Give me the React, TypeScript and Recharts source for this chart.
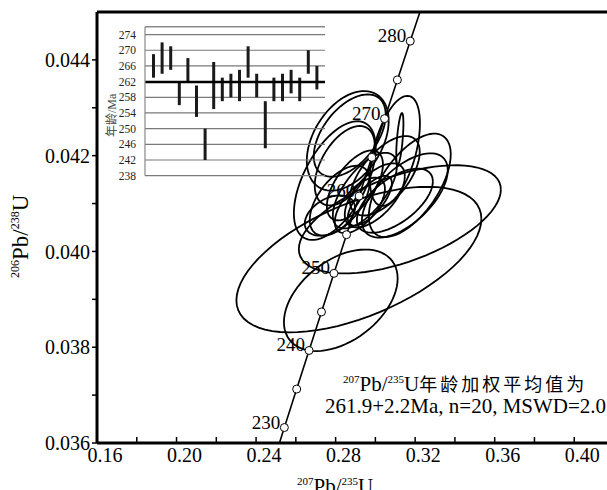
import React from "react";
import {
  ComposedChart,
  Scatter,
  Bar,
  XAxis,
  YAxis,
  CartesianGrid,
  ReferenceLine,
} from "recharts";

const SERIF = "'Liberation Serif', 'Times New Roman', serif";
const CJK = "'Noto Sans CJK SC', sans-serif";

// concordia reference points (age in Ma, 207Pb/235U, 206Pb/238U)
const concAge = [225, 230, 235, 240, 245, 250, 255, 260, 265, 270, 275, 280, 285];
const concX = [0.24806, 0.25422, 0.26041, 0.26664, 0.27289, 0.27917, 0.28549, 0.29183, 0.29821, 0.30462, 0.31106, 0.31753, 0.32403];
const concY = [0.035519, 0.036323, 0.037126, 0.037932, 0.038737, 0.039543, 0.04035, 0.041157, 0.041965, 0.042773, 0.043582, 0.044392, 0.045203];

// error ellipses: centre, half extents, correlation
const ellX = [0.2917, 0.2826, 0.3123, 0.2796, 0.2861, 0.3098, 0.3123, 0.3173, 0.3148, 0.2846, 0.2897, 0.2947, 0.2997, 0.2821, 0.2922, 0.3047, 0.2871, 0.2972, 0.2771, 0.3098];
const ellY = [0.03983, 0.03898, 0.04067, 0.04148, 0.04231, 0.0421, 0.04235, 0.04138, 0.04117, 0.04179, 0.04138, 0.04127, 0.04117, 0.04106, 0.04096, 0.04158, 0.04242, 0.04106, 0.04075, 0.04106];
const ellSX = [0.0616, 0.0286, 0.0508, 0.0206, 0.0206, 0.0126, 0.0018, 0.0206, 0.0216, 0.0151, 0.0141, 0.0161, 0.0151, 0.0151, 0.0126, 0.0176, 0.0181, 0.0111, 0.0126, 0.0191];
const ellSY = [0.00152, 0.00106, 0.00113, 0.00124, 0.00104, 0.00115, 0.00054, 0.00108, 0.00088, 0.00083, 0.00073, 0.00079, 0.00067, 0.00073, 0.00058, 0.00083, 0.00086, 0.00052, 0.00042, 0.00067];
const ellRho = [0.56, 0.43, 0.55, 0.55, 0.4, 0.5, 0.6, 0.6, 0.6, 0.5, 0.6, 0.65, 0.6, 0.55, 0.6, 0.6, 0.5, 0.7, 0.4, 0.6];

const xTicks = [0.16, 0.18, 0.2, 0.22, 0.24, 0.26, 0.28, 0.3, 0.32, 0.34, 0.36, 0.38, 0.4, 0.42];
const yTicks = [0.036, 0.037, 0.038, 0.039, 0.04, 0.041, 0.042, 0.043, 0.044];

// inset: 207Pb/235U ages per spot
const ageLow = [263, 264, 265, 256, 262, 253, 242, 255, 257, 258, 257, 263, 258, 245, 257, 257, 259, 257, 264, 260];
const ageHigh = [269, 272, 271, 262, 268, 261, 250, 267, 263, 264, 265, 271, 264, 257, 263, 264, 265, 263, 270, 266];
const meanAge = 261.9;
const ageTicks = [238, 242, 246, 250, 254, 258, 262, 266, 270, 274];

const concData = concAge.map((age, i) => ({ age, x: concX[i], y: concY[i] }));

const ellipses = ellX.map((cx, i) => {
  const pts = [];
  const r = Math.sqrt(1 - ellRho[i] * ellRho[i]);
  for (let k = 0; k <= 72; k++) {
    const t = (k * Math.PI) / 36;
    pts.push({
      x: cx + ellSX[i] * Math.cos(t),
      y: ellY[i] + ellSY[i] * (ellRho[i] * Math.cos(t) + r * Math.sin(t)),
    });
  }
  return pts;
});

const insetData = ageLow.map((lo, i) => ({ n: i + 1, range: [lo, ageHigh[i]] }));

const NoDot = () => <g />;

const ConcDot = (props: any) => {
  const { cx, cy, payload } = props;
  if (payload.age < 230 || payload.age > 280) return <g />;
  return (
    <g>
      <circle cx={cx} cy={cy} r={4} fill="#fff" stroke="#000" strokeWidth={1} />
      {payload.age % 10 === 0 && (
        <text x={cx - 4} y={cy + 1} textAnchor="end" fontSize={19} fontFamily={SERIF} fill="#000">
          {payload.age}
        </text>
      )}
    </g>
  );
};

const XTick = (props: any) => {
  const { x, y, payload } = props;
  const v = payload.value;
  const major = Math.round(v * 100) % 4 === 0;
  return (
    <g>
      <line x1={x} y1={y} x2={x} y2={y - 6} stroke="#000" strokeWidth={1.5} />
      {major && (
        <text x={x + 8} y={y + 19} textAnchor="middle" fontSize={20} fontFamily={SERIF} fill="#000">
          {v.toFixed(2)}
        </text>
      )}
    </g>
  );
};

export default function App() {
  return (
    <div style={{ position: "absolute", left: 0, top: 0, width: 607, height: 490, overflow: "hidden", background: "#fff" }}>
      <div style={{ position: "absolute", left: 0, top: 0 }}>
        <ComposedChart width={620} height={490} margin={{ top: 12, right: 6, bottom: 0, left: 37 }}>
          <XAxis
            type="number"
            dataKey="x"
            domain={[0.16, 0.42]}
            ticks={xTicks}
            allowDataOverflow
            height={47}
            axisLine={{ stroke: "#000", strokeWidth: 3 }}
            tickLine={false}
            tickSize={0}
            tickMargin={0}
            tick={<XTick />}
            interval={0}
          />
          <YAxis
            type="number"
            dataKey="y"
            domain={[0.036, 0.045]}
            ticks={yTicks}
            allowDataOverflow
            width={60}
            interval={0}
            axisLine={{ stroke: "#000", strokeWidth: 3 }}
            tickLine={{ stroke: "#000", strokeWidth: 1.5 }}
            tickSize={5}
            tickMargin={2}
            tick={{ fontSize: 20, fontFamily: SERIF, fill: "#000" }}
            tickFormatter={(v: number) => (Math.round(v * 1000) % 2 === 0 ? v.toFixed(3) : "")}
          />
          <ReferenceLine y={0.045} stroke="#000" strokeWidth={3} />
          {ellipses.map((pts, i) => (
            <Scatter
              key={i}
              data={pts}
              line={{ stroke: "#000", strokeWidth: 1.8 }}
              lineType="joint"
              shape={<NoDot />}
              fill="none"
              isAnimationActive={false}
            />
          ))}
          <Scatter
            data={concData}
            line={{ stroke: "#000", strokeWidth: 1.6 }}
            lineType="joint"
            shape={<ConcDot />}
            isAnimationActive={false}
          />
        </ComposedChart>
      </div>

      <div style={{ position: "absolute", left: 100, top: 10 }}>
        <ComposedChart width={240} height={180} data={insetData} margin={{ top: 16.7, right: 15, bottom: 14.3, left: 0 }}>
          <CartesianGrid vertical={false} stroke="#7a7a7a" strokeWidth={1.2} />
          <XAxis
            dataKey="n"
            type="category"
            height={0}
            tick={false}
            tickLine={false}
            padding={{ left: 4, right: 4 }}
            axisLine={{ stroke: "#888", strokeWidth: 1.2 }}
          />
          <YAxis
            domain={[238, 276]}
            ticks={ageTicks}
            interval={0}
            width={45}
            axisLine={{ stroke: "#888", strokeWidth: 1.2 }}
            tickLine={false}
            tickMargin={3}
            tick={{ fontSize: 11.5, fontFamily: SERIF, fill: "#222" }}
          />
          <YAxis
            yAxisId="r"
            orientation="right"
            domain={[238, 276]}
            width={0}
            tick={false}
            tickLine={false}
            axisLine={{ stroke: "#888", strokeWidth: 1.2 }}
          />
          <ReferenceLine y={276} stroke="#888" strokeWidth={1.2} />
          <ReferenceLine y={meanAge} stroke="#000" strokeWidth={2.5} />
          <Bar dataKey="range" barSize={3} fill="#1a1a1a" isAnimationActive={false} />
        </ComposedChart>
      </div>

      <svg width={607} height={490} style={{ position: "absolute", left: 0, top: 0, pointerEvents: "none" }}>
        <text transform="translate(28, 278) rotate(-90)" fontFamily={SERIF} fill="#000">
          <tspan fontSize={12} dy={-9}>206</tspan>
          <tspan fontSize={23} dy={9}>Pb/</tspan>
          <tspan fontSize={12} dy={-9}>238</tspan>
          <tspan fontSize={23} dy={9}>U</tspan>
        </text>
        <text x={297} y={493} fontFamily={SERIF} fill="#000">
          <tspan fontSize={11} dy={-8}>207</tspan>
          <tspan fontSize={21} dy={8}>Pb/</tspan>
          <tspan fontSize={11} dy={-8}>235</tspan>
          <tspan fontSize={21} dy={8}>U</tspan>
        </text>
        <text transform="translate(116, 137) rotate(-90)" fill="#444" fontSize={12}>
          <tspan fontFamily={CJK}>年龄</tspan>
          <tspan fontFamily={SERIF}>/Ma</tspan>
        </text>
        <text x={343} y={391} fill="#000">
          <tspan fontFamily={SERIF} fontSize={11} dy={-8}>207</tspan>
          <tspan fontFamily={SERIF} fontSize={21} dy={8}>Pb/</tspan>
          <tspan fontFamily={SERIF} fontSize={11} dy={-8}>235</tspan>
          <tspan fontFamily={SERIF} fontSize={21} dy={8}>U</tspan>
          <tspan fontFamily={CJK} fontSize={18} letterSpacing={3}>年龄加权平均值为</tspan>
        </text>
        <text x={325} y={413} fontFamily={SERIF} fontSize={21} fill="#000">
          261.9+2.2Ma, n=20, MSWD=2.0
        </text>
      </svg>
    </div>
  );
}
